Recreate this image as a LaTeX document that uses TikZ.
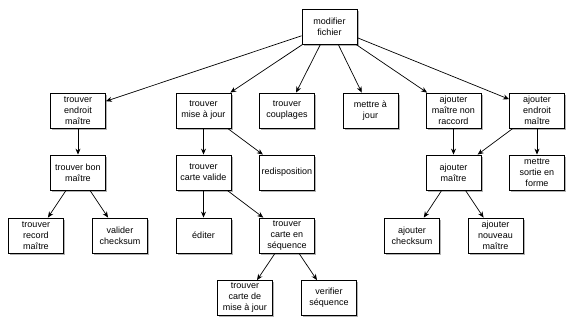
\documentclass[tikz,border=0pt]{standalone}
\usepackage{fontspec}
\setmainfont{Liberation Sans}
\usetikzlibrary{arrows.meta,shadows}

\begin{document}
\begin{tikzpicture}[x=1pt,y=1pt]
\tikzstyle{tache}=[rectangle, draw, line width=0.8pt, fill=white, align=center,
  minimum width=55pt, minimum height=35pt, inner sep=1pt,
  font=\fontsize{9}{11}\selectfont,
  drop shadow={shadow xshift=1.5pt, shadow yshift=-2pt, opacity=0.6}]
\tikzstyle{fleche}=[-{Stealth[length=6pt,width=5pt]}, line width=0.7pt]
\useasboundingbox (0,0) rectangle (566,320);
 % racine
 \node[tache] (modif) at (329.5,293.5) {modifier\\fichier};
 % niveau 1
 \node[tache] (tem) at (78,209.5) {trouver\\endroit\\ma\^itre};
 \node[tache] (tmj) at (203.5,209.5) {trouver\\mise \`a jour};
 \node[tache] (tc) at (287,209.5) {trouver\\couplages};
 \node[tache] (maj) at (370.5,209.5) {mettre \`a\\jour};
 \node[tache] (amnr) at (453.5,209.5) {ajouter\\ma\^itre non\\raccord};
 \node[tache] (aem) at (537,209.5) {ajouter\\endroit\\ma\^itre};
 % niveau 2
 \node[tache] (tbm) at (78,147.5) {trouver bon\\ma\^itre};
 \node[tache] (tcv) at (203.5,147.5) {trouver\\carte valide};
 \node[tache] (redisp) at (287,147.5) {redisposition};
 \node[tache] (am) at (453.5,147.5) {ajouter\\ma\^itre};
 \node[tache] (msf) at (537,147.5) {mettre\\sortie en\\forme};
 % niveau 3
 \node[tache] (trm) at (36,84.5) {trouver\\record\\ma\^itre};
 \node[tache] (vc) at (120,84.5) {valider\\checksum};
 \node[tache] (ed) at (203.5,84.5) {\'editer};
 \node[tache] (tcs) at (287,84.5) {trouver\\carte en\\s\'equence};
 \node[tache] (ac) at (412,84.5) {ajouter\\checksum};
 \node[tache] (anm) at (495.5,84.5) {ajouter\\nouveau\\ma\^itre};
 % niveau 4
 \node[tache] (tcmj) at (245,22) {trouver\\carte de\\mise \`a jour};
 \node[tache] (vs) at (329,22) {verifier\\s\'equence};
 % fleches
 \foreach \enfant in {tem,tmj,tc,maj,amnr,aem}
   \draw[fleche] (modif) -- (\enfant);
 \draw[fleche] (tem) -- (tbm);
 \draw[fleche] (tbm) -- (trm);
 \draw[fleche] (tbm) -- (vc);
 \draw[fleche] (tmj) -- (tcv);
 \draw[fleche] (tmj) -- (redisp);
 \draw[fleche] (tcv) -- (ed);
 \draw[fleche] (tcv) -- (tcs);
 \draw[fleche] (tcs) -- (tcmj);
 \draw[fleche] (tcs) -- (vs);
 \draw[fleche] (amnr) -- (am);
 \draw[fleche] (aem) -- (am);
 \draw[fleche] (aem) -- (msf);
 \draw[fleche] (am) -- (ac);
 \draw[fleche] (am) -- (anm);
\end{tikzpicture}
\end{document}
